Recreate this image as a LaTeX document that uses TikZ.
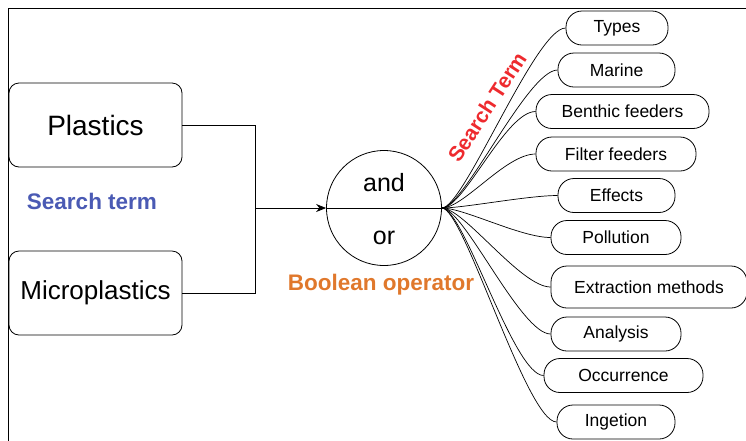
\documentclass[tikz,border=0pt]{standalone}
\usepackage{fontspec}
\setmainfont{Liberation Sans}
\usetikzlibrary{arrows.meta}

\definecolor{termblue}{HTML}{4A5AB4}
\definecolor{oporange}{HTML}{E0782C}
\definecolor{termred}{HTML}{EE2A2E}

\tikzset{
  termbox/.style={draw, rounded corners=10pt, minimum width=173pt, minimum height=84pt,
    font=\fontsize{26}{30}\selectfont, line width=0.8pt},
  topic/.style={draw, rounded corners=16pt, minimum height=34pt, inner sep=0pt,
    font=\fontsize{17.5}{20}\selectfont, line width=0.8pt},
  branch/.style={line width=0.7pt},
  oplabel/.style={font=\fontsize{25}{28}\selectfont, anchor=base}
}

\begin{document}
\begin{tikzpicture}[x=1pt, y=-1pt]
\path[use as bounding box, clip] (0,0) rectangle (746,440);
\draw[line width=1pt] (8,8) rectangle (760,460);

% search terms on the left
\node[termbox, font=\fontsize{28}{30}\selectfont] (plastics) at (95.5,125) {Plastics};
\node[termbox] (micro) at (95.5,293) {Microplastics};
\node[font=\bfseries\fontsize{22.5}{24}\selectfont, text=termblue] (searchlbl) at (92,201) {Search term};

% boolean operator
\node[draw, circle, minimum size=115pt, inner sep=0pt, line width=0.8pt] (op) at (384,208) {};
\draw[line width=0.8pt] (op.west) -- (op.east);
\node[oplabel] (andlbl) at (384,191) {and};
\node[oplabel] (orlbl) at (384,244) {or};
\node[font=\bfseries\fontsize{22.5}{24}\selectfont, text=oporange] (oplbl) at (381,285) {Boolean operator};

\coordinate (join) at (255,208);
\draw[line width=0.8pt] (plastics.east) -| (join);
\draw[line width=0.8pt] (micro.east) -| (join);
\draw[line width=0.8pt, -{Stealth[length=10pt, width=8pt]}] (join) -- (op.west);

% search terms on the right
\node[rotate=57, font=\bfseries\fontsize{21}{24}\selectfont, text=termred] (termlbl) at (487,107) {Search Term};

\foreach \name/\cx/\cy/\w/\h/\txt in {
  types/617/28/102/34/Types,
  marine/616.5/70/117/34/Marine,
  benthic/622.5/111.5/173/34/Benthic feeders,
  filter/616/154/160/34/Filter feeders,
  effects/616.5/195.5/117/34/Effects,
  pollution/616/237.5/130/34/Pollution,
  extraction/649/287/196/42/Extraction methods,
  analysis/616/334/130/34/Analysis,
  occurrence/623.5/375.5/159/34/Occurrence,
  ingetion/616/422/118/34/Ingetion}
{
  \node[topic, minimum width=\w*1pt, minimum height=\h*1pt] (\name) at (\cx,\cy) {\txt};
  \draw[branch] (op.east) .. controls +(22,0) and +(-30,0) .. (\name.west);
}
\end{tikzpicture}
\end{document}
